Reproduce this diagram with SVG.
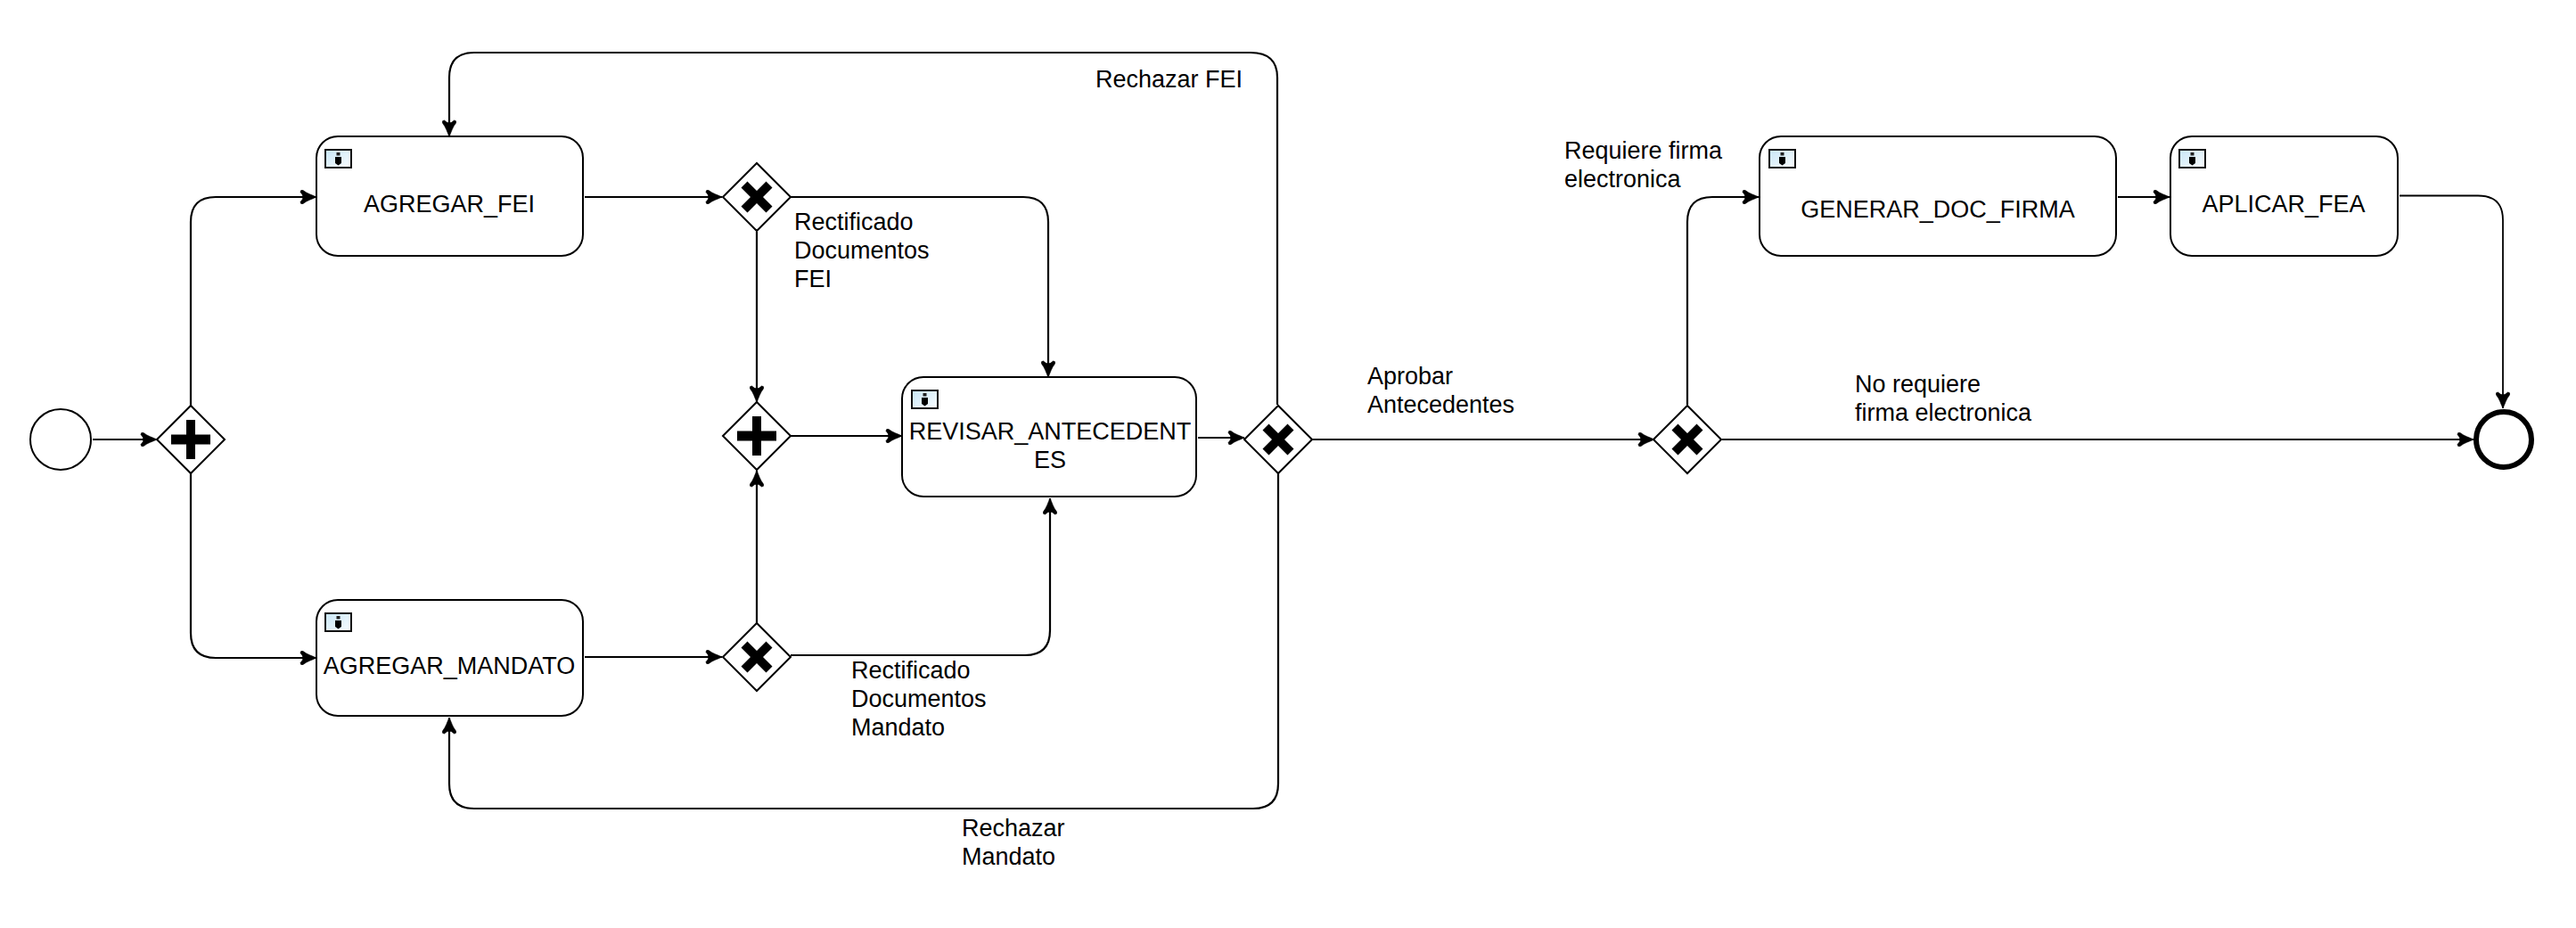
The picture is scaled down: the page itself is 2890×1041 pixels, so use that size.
<svg xmlns="http://www.w3.org/2000/svg" width="2890" height="1041" viewBox="0 0 2890 1041">
<style>
text{font-family:"Liberation Sans",Arial,sans-serif;font-size:27px;fill:#000}
.m{text-anchor:middle}
.task{fill:#fff;stroke:#000;stroke-width:2}
.gw{fill:#fff;stroke:#000;stroke-width:2}
.c{fill:none;stroke:#000;stroke-width:2.2;marker-end:url(#arrow)}
.t{stroke-width:1.8}
.mark{fill:#000}
</style>
<defs>
<marker id="arrow" markerUnits="userSpaceOnUse" markerWidth="22" markerHeight="18" refX="20" refY="8.500" orient="auto">
<path d="M20 8.500C15 6 10 5 5 1Q2 0 2 3Q5 6 5 8.500Q5 11 2 14Q2 17 5 16C10 12 15 11 20 8.500Z" fill="#000" stroke="#000" stroke-width=".6"/>
</marker>
<linearGradient id="ig" x1="0" y1="0" x2="1" y2="1">
<stop offset="0" stop-color="#c8e6f6"/><stop offset="1" stop-color="#fafdff"/>
</linearGradient>
<g id="icon">
<rect x="0" y="0" width="29" height="20" fill="url(#ig)" stroke="#111" stroke-width="2"/>
<rect x="12.500" y="3" width="4" height="3.500" fill="#222"/>
<path d="M11 8h7v7l-3.500 2.500L11 15z" fill="#000"/>
</g>
<path id="plus" d="M-5 -22H5V-5.500H22V5.500H5V22H-5V5.500H-22V-5.500H-5Z"/>
<path id="x" d="M-10.500 -17.500L0 -7L10.500 -17.500L17.500 -10.500L7 0L17.500 10.500L10.500 17.500L0 7L-10.500 17.500L-17.500 10.500L-7 0L-17.500 -10.500Z"/>
<path id="dia" d="M-38 0L0 -38L38 0L0 38Z"/>
</defs>
<rect width="2890" height="1041" fill="#fff"/>
<g id="connectors">
<path class="c" d="M104 493H176"/>
<path class="c" d="M214 455V249Q214 221 242 221H355"/>
<path class="c" d="M214 531V710Q214 738 242 738H355"/>
<path class="c" d="M656 221H810"/>
<path class="c" d="M886 221H1148Q1176 221 1176 249V423"/>
<path class="c" d="M849 260V451"/>
<path class="c" d="M656 737H810"/>
<path class="c" d="M849 699V528"/>
<path class="c" d="M887 735H1150Q1178 735 1178 707V559"/>
<path class="c" d="M887 489H1012"/>
<path class="c" d="M1344 491H1396"/>
<path class="c" d="M1433 454V87Q1433 59 1403 59H532Q504 59 504 87V153"/>
<path class="c" d="M1434 531V879Q1434 907 1406 907H532Q504 907 504 879V805"/>
<path class="c" d="M1472 493H1856"/>
<path class="c" d="M1893 454V249Q1893 221 1921 221H1973"/>
<path class="c" d="M1932 493H2775"/>
<path class="c" d="M2376 221H2434"/>
<path class="c t" d="M2692 219.500H2780Q2808 219.500 2808 247V458"/>
</g>
<g id="start"><circle cx="68" cy="493" r="34" fill="#fff" stroke="#000" stroke-width="2"/></g>
<g id="gw-split" transform="translate(214 493)"><use href="#dia" class="gw"/><use href="#plus" class="mark"/></g>
<g id="task-agregar-fei">
<rect class="task" x="355" y="153" width="299" height="134" rx="24"/>
<use href="#icon" x="365" y="168"/>
<text class="m" x="504" y="238">AGREGAR_FEI</text>
</g>
<g id="task-agregar-mandato">
<rect class="task" x="355" y="673" width="299" height="130" rx="24"/>
<use href="#icon" x="365" y="688"/>
<text class="m" x="504" y="756">AGREGAR_MANDATO</text>
</g>
<g id="gw-fei" transform="translate(849 221)"><use href="#dia" class="gw"/><use href="#x" class="mark"/></g>
<g id="gw-join" transform="translate(849 489)"><use href="#dia" class="gw"/><use href="#plus" class="mark"/></g>
<g id="gw-mandato" transform="translate(849 737)"><use href="#dia" class="gw"/><use href="#x" class="mark"/></g>
<g id="task-revisar">
<rect class="task" x="1012" y="423" width="330" height="134" rx="24"/>
<use href="#icon" x="1023" y="438"/>
<text class="m" x="1178" y="493">REVISAR_ANTECEDENT</text>
<text class="m" x="1178" y="525">ES</text>
</g>
<g id="gw-revision" transform="translate(1434 493)"><use href="#dia" class="gw"/><use href="#x" class="mark"/></g>
<g id="gw-firma" transform="translate(1893 493)"><use href="#dia" class="gw"/><use href="#x" class="mark"/></g>
<g id="task-generar">
<rect class="task" x="1974" y="153" width="400" height="134" rx="24"/>
<use href="#icon" x="1985" y="168"/>
<text class="m" x="2174" y="244">GENERAR_DOC_FIRMA</text>
</g>
<g id="task-aplicar">
<rect class="task" x="2435" y="153" width="255" height="134" rx="24"/>
<use href="#icon" x="2445" y="168"/>
<text class="m" x="2562" y="238">APLICAR_FEA</text>
</g>
<g id="end"><circle cx="2809" cy="493" r="31" fill="#fff" stroke="#000" stroke-width="6"/></g>
<g id="labels">
<text x="1229" y="98">Rechazar FEI</text>
<text x="891" y="258">Rectificado</text>
<text x="891" y="290">Documentos</text>
<text x="891" y="322">FEI</text>
<text x="955" y="761">Rectificado</text>
<text x="955" y="793">Documentos</text>
<text x="955" y="825">Mandato</text>
<text x="1079" y="938">Rechazar</text>
<text x="1079" y="970">Mandato</text>
<text x="1534" y="431">Aprobar</text>
<text x="1534" y="463">Antecedentes</text>
<text x="1755" y="178">Requiere firma</text>
<text x="1755" y="210">electronica</text>
<text x="2081" y="440">No requiere</text>
<text x="2081" y="472">firma electronica</text>
</g>
</svg>
